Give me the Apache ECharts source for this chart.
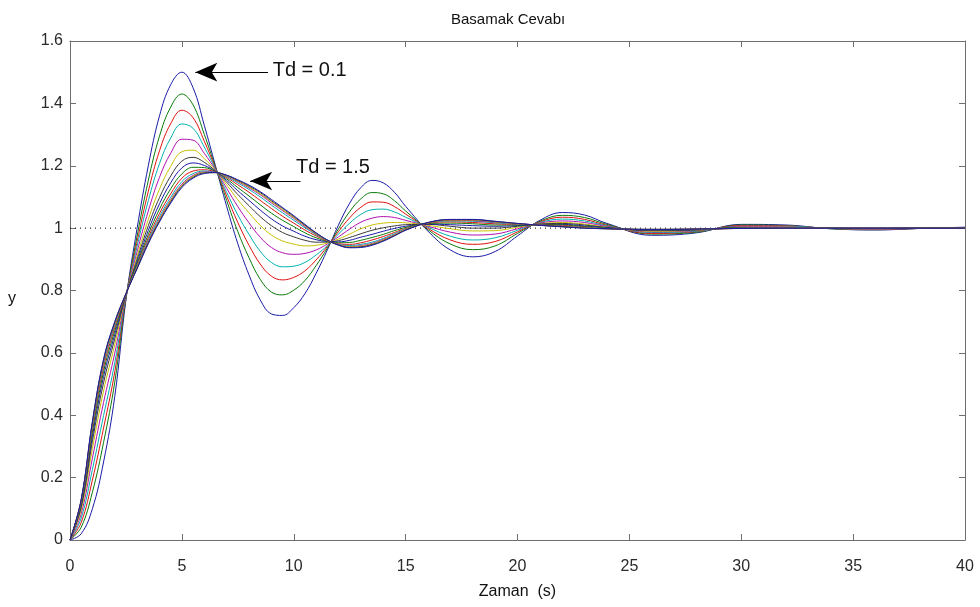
<!DOCTYPE html>
<html><head><meta charset="utf-8">
<script src="https://cdn.jsdelivr.net/npm/echarts@6/dist/echarts.min.js"></script>
<style>html,body{margin:0;padding:0;background:#fff}#c{width:980px;height:607px}</style>
</head><body><div id="c"></div>
<script>
// Time samples (s)
const times = [0,0.5,1,1.5,2,2.5,3,3.5,4,4.5,5,5.5,6,6.5,7,7.5,8,8.5,9,9.5,10,10.5,11,11.5,12,12.5,13,13.5,14,14.5,15,16,17,18,19,20,21,22,23,24,26,28,30,32,34,36,38,40];
// Td values
const tdValues = [0.1,0.2,0.3,0.4,0.5,0.6,0.7,0.8,0.9,1.0,1.1,1.2,1.3,1.4,1.5];
// Step responses y(t), one array per Td
const yTd01 = [0,0.02,0.10,0.25,0.46,0.77,1.00,1.20,1.36,1.46,1.50,1.45,1.33,1.20,1.07,0.95,0.85,0.77,0.725,0.72,0.745,0.79,0.855,0.93,1.01,1.08,1.13,1.153,1.145,1.115,1.07,0.99,0.93,0.908,0.925,0.975,1.025,1.05,1.042,1.015,0.977,0.985,1.012,1.01,0.998,0.994,0.999,1.003];
const yTd02 = [0,0.041,0.153,0.313,0.506,0.774,0.975,1.153,1.295,1.388,1.430,1.395,1.301,1.196,1.089,0.989,0.905,0.836,0.795,0.786,0.801,0.832,0.880,0.936,0.998,1.053,1.094,1.114,1.110,1.088,1.055,0.995,0.949,0.931,0.943,0.983,1.022,1.041,1.034,1.012,0.981,0.987,1.010,1.008,0.998,0.995,0.999,1.002];
const yTd03 = [0,0.056,0.192,0.359,0.539,0.777,0.957,1.118,1.248,1.335,1.378,1.354,1.279,1.193,1.103,1.018,0.945,0.885,0.846,0.834,0.842,0.863,0.898,0.941,0.989,1.033,1.067,1.084,1.083,1.069,1.045,0.999,0.962,0.948,0.957,0.988,1.020,1.035,1.028,1.009,0.983,0.989,1.008,1.007,0.999,0.996,0.999,1.002];
const yTd04 = [0,0.070,0.226,0.399,0.568,0.779,0.942,1.088,1.207,1.289,1.334,1.320,1.260,1.190,1.115,1.042,0.980,0.926,0.890,0.876,0.878,0.890,0.914,0.944,0.981,1.016,1.044,1.059,1.061,1.052,1.035,1.003,0.974,0.962,0.969,0.993,1.018,1.029,1.023,1.007,0.986,0.990,1.006,1.006,0.999,0.997,0.999,1.002];
const yTd05 = [0,0.084,0.262,0.441,0.599,0.782,0.925,1.055,1.163,1.240,1.285,1.282,1.240,1.187,1.128,1.069,1.017,0.971,0.938,0.921,0.916,0.919,0.930,0.949,0.972,0.997,1.019,1.032,1.037,1.034,1.025,1.006,0.987,0.978,0.981,0.998,1.016,1.023,1.018,1.005,0.988,0.992,1.005,1.004,0.999,0.997,0.999,1.001];
const yTd06 = [0,0.096,0.293,0.478,0.626,0.784,0.910,1.028,1.125,1.198,1.245,1.250,1.223,1.185,1.139,1.091,1.049,1.009,0.978,0.959,0.949,0.943,0.945,0.952,0.965,0.981,0.998,1.010,1.016,1.018,1.017,1.009,0.998,0.991,0.992,1.003,1.014,1.018,1.013,1.003,0.990,0.993,1.003,1.003,0.999,0.998,1.0,1.001];
const yTd07 = [0,0.105,0.316,0.504,0.645,0.785,0.900,1.008,1.098,1.167,1.215,1.227,1.211,1.183,1.147,1.108,1.072,1.037,1.008,0.986,0.972,0.961,0.955,0.955,0.960,0.970,0.982,0.993,1.001,1.007,1.011,1.012,1.006,1.000,1.000,1.006,1.013,1.015,1.010,1.002,0.992,0.994,1.002,1.002,0.999,0.999,1.0,1.001];
const yTd08 = [0,0.111,0.332,0.524,0.659,0.787,0.892,0.993,1.078,1.145,1.193,1.209,1.201,1.182,1.153,1.120,1.089,1.058,1.030,1.007,0.990,0.974,0.963,0.957,0.956,0.961,0.971,0.980,0.990,0.999,1.006,1.013,1.011,1.008,1.006,1.008,1.012,1.012,1.007,1.001,0.993,0.995,1.001,1.002,1.0,0.999,1.0,1.001];
const yTd09 = [0,0.117,0.346,0.540,0.671,0.788,0.886,0.980,1.061,1.126,1.174,1.195,1.194,1.181,1.158,1.130,1.103,1.075,1.048,1.025,1.005,0.985,0.969,0.958,0.953,0.954,0.961,0.970,0.980,0.992,1.002,1.015,1.016,1.014,1.010,1.010,1.011,1.010,1.005,1.000,0.994,0.996,1.001,1.001,1.0,0.999,1.0,1.0];
const yTd10 = [0,0.121,0.358,0.554,0.681,0.788,0.880,0.970,1.047,1.110,1.160,1.183,1.187,1.180,1.162,1.139,1.115,1.089,1.063,1.038,1.016,0.994,0.975,0.959,0.950,0.948,0.953,0.962,0.973,0.986,0.999,1.016,1.020,1.018,1.014,1.012,1.010,1.008,1.003,0.999,0.995,0.996,1.0,1.001,1.0,0.999,1.0,1.0];
const yTd11 = [0,0.125,0.366,0.564,0.688,0.789,0.877,0.963,1.037,1.099,1.149,1.175,1.183,1.179,1.165,1.145,1.124,1.100,1.074,1.049,1.025,1.001,0.979,0.960,0.948,0.944,0.948,0.955,0.967,0.982,0.997,1.017,1.023,1.022,1.017,1.013,1.010,1.006,1.002,0.999,0.995,0.996,1.0,1.001,1.0,1.0,1.0,1.0];
const yTd12 = [0,0.127,0.372,0.570,0.693,0.789,0.874,0.958,1.030,1.091,1.141,1.169,1.180,1.179,1.167,1.149,1.129,1.107,1.081,1.056,1.031,1.005,0.981,0.961,0.947,0.941,0.944,0.951,0.964,0.979,0.995,1.017,1.025,1.024,1.019,1.014,1.010,1.005,1.001,0.998,0.995,0.997,0.999,1.0,1.0,1.0,1.0,1.0];
const yTd13 = [0,0.128,0.374,0.573,0.695,0.790,0.873,0.955,1.027,1.088,1.137,1.166,1.178,1.178,1.168,1.151,1.132,1.110,1.085,1.059,1.034,1.008,0.982,0.961,0.946,0.940,0.942,0.949,0.962,0.978,0.995,1.017,1.026,1.026,1.020,1.014,1.009,1.005,1.001,0.998,0.996,0.997,0.999,1.0,1.0,1.0,1.0,1.0];
const yTd14 = [0,0.129,0.377,0.577,0.698,0.790,0.871,0.953,1.023,1.084,1.134,1.163,1.177,1.178,1.169,1.153,1.135,1.114,1.088,1.063,1.037,1.010,0.984,0.962,0.946,0.938,0.940,0.947,0.960,0.976,0.994,1.018,1.027,1.027,1.021,1.015,1.009,1.005,1.000,0.998,0.996,0.997,0.999,1.0,1.0,1.0,1.0,1.0];
const yTd15 = [0,0.13,0.38,0.58,0.70,0.79,0.87,0.95,1.02,1.08,1.13,1.16,1.175,1.178,1.17,1.155,1.138,1.117,1.092,1.066,1.04,1.012,0.985,0.962,0.945,0.937,0.938,0.945,0.958,0.975,0.993,1.018,1.028,1.028,1.022,1.015,1.009,1.004,1.0,0.998,0.996,0.997,0.999,1.0,1.0,1.0,1.0,1.0];
const curves = [yTd01,yTd02,yTd03,yTd04,yTd05,yTd06,yTd07,yTd08,yTd09,yTd10,yTd11,yTd12,yTd13,yTd14,yTd15];
// Axis ticks
const xTicks = [0,5,10,15,20,25,30,35,40];
const yTicks = [0,0.2,0.4,0.6,0.8,1,1.2,1.4,1.6];
// Reference level and annotations
const refLevel = 1;
const annotations = [
  {text:'Td = 0.1', from:[8.85,1.50], to:[5.6,1.50], label:[9.06,1.504]},
  {text:'Td = 1.5', from:[10.3,1.151], to:[8.05,1.151], label:[10.1,1.196]}
];

const palette = ['#1a1aa6','#0a7a0a','#e01010','#00b0b0','#b010b0','#c8c000','#383838'];
const font = 'Liberation Sans, Arial, sans-serif';
const labelColor = '#2a2a2a';
const axisColor = '#6e6e6e';

const series = curves.map((ys, i) => ({
  type:'line', name:'Td = ' + tdValues[i],
  data: times.map((t, j) => [t, ys[j]]),
  smooth: 0.4, showSymbol:false, symbol:'none',
  lineStyle:{width:1, color: palette[i % palette.length]},
  z: 3, silent:true
}));

series.unshift({
  type:'line', name:'ref', data:[[xTicks[0], refLevel],[xTicks[xTicks.length-1], refLevel]],
  showSymbol:false, symbol:'none', silent:true, z:2,
  lineStyle:{color:'#000', width:1, type:[1,4]},
  markLine:{
    silent:true, animation:false, z:5,
    symbol:['none','arrow'], symbolSize:[14,22],
    lineStyle:{color:'#000', width:1.2, type:'solid'},
    label:{show:false},
    data: annotations.map(a => [{coord:a.from},{coord:a.to}])
  },
  markPoint:{
    silent:true, animation:false, z:5,
    data: annotations.map(a => ({
      coord:a.label, symbol:'circle', symbolSize:0,
      label:{show:true, position:'right', distance:0, formatter:a.text,
             color:'#111', fontSize:20, fontFamily:font}
    }))
  }
});

const chart = echarts.init(document.getElementById('c'), null, {renderer:'canvas'});
const fmt = v => { const r = Math.round(v*10)/10; return String(r); };
const tick = {show:true, inside:true, length:6, lineStyle:{color:axisColor}};
const line = {show:true, onZero:false, lineStyle:{color:axisColor, width:1}};
chart.setOption({
  animation:false,
  backgroundColor:'#fff',
  title:{text:'Basamak Cevabı', left:446, top:7,
    textStyle:{fontSize:15, fontWeight:'normal', color:'#111', fontFamily:font}},
  grid:{left:70, right:15, top:41, bottom:67},
  xAxis:[{
    type:'value', position:'bottom', min:xTicks[0], max:xTicks[xTicks.length-1], interval:5,
    name:'Zaman  (s)', nameLocation:'middle', nameGap:44,
    nameTextStyle:{fontSize:16, color:'#111', fontFamily:font},
    axisLine:line, axisTick:tick,
    axisLabel:{margin:19, fontSize:16, color:labelColor, fontFamily:font, formatter:fmt},
    splitLine:{show:false}
  },{
    type:'value', position:'top', min:xTicks[0], max:xTicks[xTicks.length-1], interval:5,
    axisLine:line, axisTick:tick,
    axisLabel:{show:false}, splitLine:{show:false}
  }],
  yAxis:[{
    type:'value', position:'left', min:yTicks[0], max:yTicks[yTicks.length-1], interval:0.2,
    name:'y', nameLocation:'middle', nameGap:54, nameRotate:0,
    nameTextStyle:{fontSize:16, color:'#111', fontFamily:font, verticalAlign:'top'},
    axisLine:line, axisTick:tick,
    axisLabel:{margin:7, fontSize:16, color:labelColor, fontFamily:font, formatter:fmt},
    splitLine:{show:false}
  },{
    type:'value', position:'right', min:yTicks[0], max:yTicks[yTicks.length-1], interval:0.2,
    axisLine:line, axisTick:tick,
    axisLabel:{show:false}, splitLine:{show:false}
  }],
  series: series
});
</script></body></html>
